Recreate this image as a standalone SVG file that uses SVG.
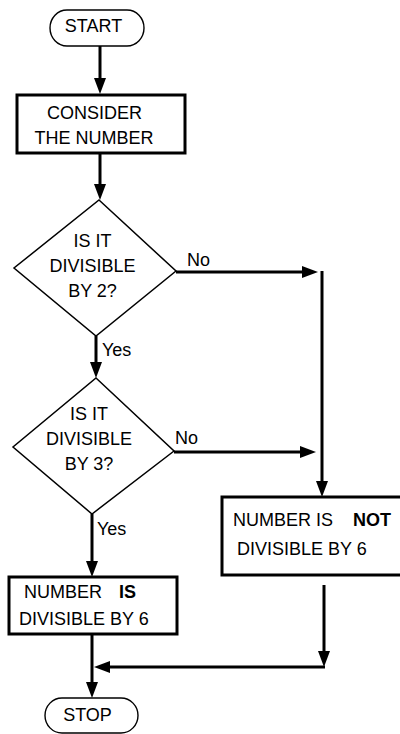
<svg xmlns="http://www.w3.org/2000/svg" width="400" height="734" viewBox="0 0 400 734">
<defs>
<style>
text{font-family:"Liberation Sans",Arial,sans-serif;font-size:18px;fill:#000}
.c{text-anchor:middle}
.b{font-weight:bold}
.term{fill:#fff;stroke:#000;stroke-width:1.4}
.box{fill:#fff;stroke:#000;stroke-width:3}
.dec{fill:#fff;stroke:#000;stroke-width:1.5}
.con{fill:none;stroke:#000;stroke-width:3;marker-end:url(#ah)}
.lab{fill:#000}
</style>
<marker id="ah" markerUnits="userSpaceOnUse" markerWidth="16" markerHeight="12" refX="8" refY="6" orient="auto">
<path d="M0,0 L16,6 L0,12 z" fill="#000"/>
</marker>
</defs>
<rect width="400" height="734" fill="#fff"/>
<g id="connectors">
<path class="con" d="M100,46 V86"/>
<path class="con" d="M100,153 V192"/>
<path class="con" d="M176,272 H310"/>
<path class="con" d="M322,271 V489"/>
<path class="con" d="M96,336 V370"/>
<path class="con" d="M174,452 H308"/>
<path class="con" d="M92,514 V569"/>
<path class="con" d="M324,585 V659"/>
<path class="con" d="M325,667 H102"/>
<path class="con" d="M92,634 V690"/>
<text x="187" y="266">No</text>
<text x="102" y="356">Yes</text>
<text x="175" y="444">No</text>
<text x="97" y="535">Yes</text>
</g>
<g id="start">
<rect class="term" x="50" y="10" width="94" height="36" rx="17" ry="18"/>
<text class="c" x="93.5" y="32">START</text>
</g>
<g id="consider">
<rect class="box" x="17" y="95" width="168" height="58"/>
<text class="c" x="94.5" y="119">CONSIDER</text>
<text class="c" x="94" y="144">THE NUMBER</text>
</g>
<g id="div2">
<polygon class="dec" points="99,200 176,271 96,336 14,268"/>
<text class="c" x="92.5" y="247">IS IT</text>
<text class="c" x="92.5" y="272">DIVISIBLE</text>
<text class="c" x="92.5" y="297">BY 2?</text>
</g>
<g id="div3">
<polygon class="dec" points="96,378 174,451 92,514 13,447"/>
<text class="c" x="89" y="420">IS IT</text>
<text class="c" x="89" y="445">DIVISIBLE</text>
<text class="c" x="89" y="470">BY 3?</text>
</g>
<g id="not-divisible">
<rect class="box" x="222" y="497" width="190" height="78"/>
<text x="233" y="526">NUMBER IS</text>
<text class="b" x="353" y="526">NOT</text>
<text x="237" y="555">DIVISIBLE BY 6</text>
</g>
<g id="divisible">
<rect class="box" x="9" y="577" width="168" height="57"/>
<text x="24" y="598">NUMBER</text>
<text class="b" x="119" y="598">IS</text>
<text x="19" y="625">DIVISIBLE BY 6</text>
</g>
<g id="stop">
<rect class="term" x="45" y="698" width="93" height="35" rx="17" ry="17.5"/>
<text class="c" x="87.5" y="721">STOP</text>
</g>
</svg>
